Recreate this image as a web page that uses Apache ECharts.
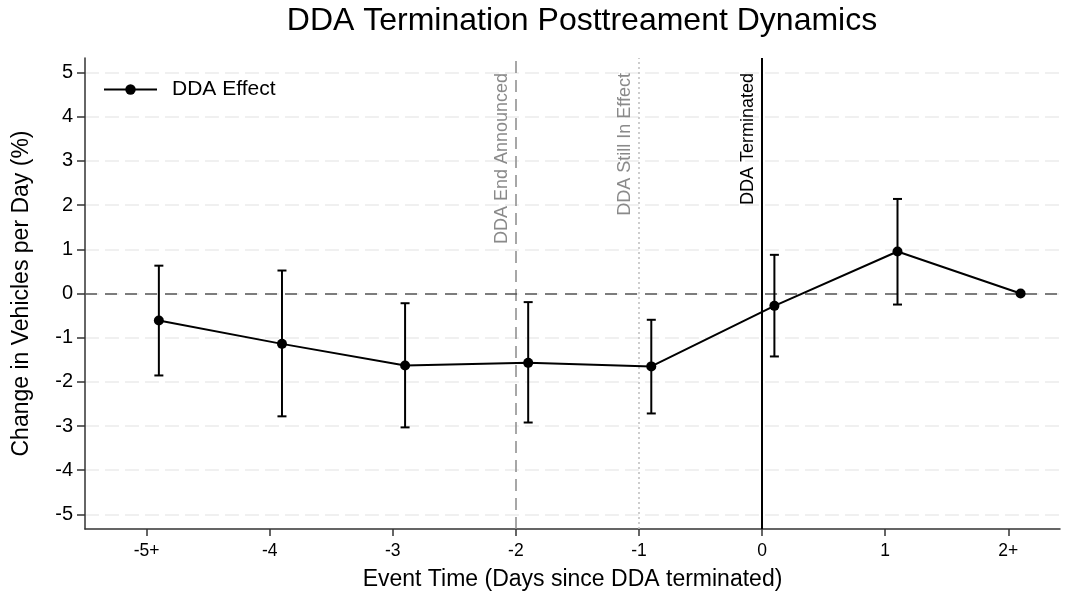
<!DOCTYPE html>
<html>
<head>
<meta charset="utf-8">
<script src="https://cdn.jsdelivr.net/npm/echarts@6/dist/echarts.min.js"></script>
<style>
html,body{margin:0;padding:0;background:#fff;}
#chart{width:1065px;height:598px;}
</style>
</head>
<body>
<div id="chart"></div>
<script>
const titleText = 'DDA Termination Posttreament Dynamics';
const xTickValues = [-5, -4, -3, -2, -1, 0, 1, 2];
const xTickLabels = ['-5+', '-4', '-3', '-2', '-1', '0', '1', '2+'];
const yTickValues = [-5, -4, -3, -2, -1, 0, 1, 2, 3, 4, 5];
const eventTimes = [-4.9, -3.9, -2.9, -1.9, -0.9, 0.1, 1.1, 2.1];
const effect = [-0.61, -1.14, -1.63, -1.57, -1.65, -0.28, 0.95, 0];
const ciLow = [-1.855, -2.78, -3.03, -2.92, -2.715, -1.425, -0.25, null];
const ciHigh = [0.63, 0.52, -0.22, -0.195, -0.595, 0.875, 2.14, null];
const eventLineX = [-2, -1, 0];
const eventLineLabels = ['DDA End Announced', 'DDA Still In Effect', 'DDA Terminated'];

const FONT = '"Liberation Sans", Arial, Helvetica, sans-serif';
const chart = echarts.init(document.getElementById('chart'), null, {renderer: 'canvas'});

const lineData = eventTimes.map((x, i) => [x, effect[i]]);
const ciData = [];
eventTimes.forEach((x, i) => { if (ciLow[i] !== null) ciData.push([x, ciLow[i], ciHigh[i]]); });

const eventLineStyles = [
  {color: '#8a8a8a', width: 1.5, type: [12, 7]},
  {color: '#bdbdbd', width: 1.5, type: [2, 3]},
  {color: '#000000', width: 2, type: 'solid'}
];
const eventLabelColors = ['#8a8a8a', '#8a8a8a', '#000000'];

const markLineData = eventLineX.map((x, i) => ({
  xAxis: x,
  lineStyle: eventLineStyles[i],
  label: {
    show: true,
    formatter: eventLineLabels[i],
    position: 'insideEndTop',
    distance: [15, 5],
    color: eventLabelColors[i],
    fontSize: 18,
    fontFamily: FONT
  }
}));
markLineData.push({
  yAxis: 0,
  lineStyle: {color: '#555', width: 1.5, type: [12, 8]},
  label: {show: false}
});

const option = {
  animation: false,
  backgroundColor: '#fff',
  title: {
    text: titleText,
    left: 577,
    top: 0,
    textAlign: 'center',
    textStyle: {fontFamily: FONT, fontSize: 32, fontWeight: 'normal', color: '#000'}
  },
  legend: {
    left: 98,
    top: 74,
    itemWidth: 53,
    itemHeight: 13,
    textStyle: {fontFamily: FONT, fontSize: 21, color: '#000', padding: [0, 0, 0, 10]},
    data: ['DDA Effect']
  },
  grid: {left: 85, right: 5, top: 58, bottom: 69, containLabel: false},
  xAxis: {
    type: 'value',
    min: -5.5,
    max: 2.42,
    name: 'Event Time (Days since DDA terminated)',
    nameLocation: 'middle',
    nameGap: 39,
    nameTextStyle: {fontFamily: FONT, fontSize: 23, color: '#000'},
    axisLine: {show: true, onZero: false, lineStyle: {color: '#333', width: 1.5}},
    axisTick: {show: true, length: 7, customValues: xTickValues, lineStyle: {color: '#333', width: 1.5}},
    axisLabel: {
      customValues: xTickValues,
      formatter: v => { const i = xTickValues.indexOf(Math.round(v)); return i >= 0 ? xTickLabels[i] : ''; },
      fontFamily: FONT, fontSize: 17.5, color: '#000', margin: 13
    },
    splitLine: {show: false}
  },
  yAxis: {
    type: 'value',
    min: -5.33,
    max: 5.33,
    name: 'Change in Vehicles per Day (%)',
    nameLocation: 'middle',
    nameGap: 52,
    nameTextStyle: {fontFamily: FONT, fontSize: 23, color: '#000'},
    axisLine: {show: true, onZero: false, lineStyle: {color: '#333', width: 1.5}},
    axisTick: {show: true, length: 8, customValues: yTickValues, lineStyle: {color: '#333', width: 1.5}},
    axisLabel: {customValues: yTickValues, fontFamily: FONT, fontSize: 20, color: '#000', margin: 12},
    splitLine: {show: true, lineStyle: {color: '#ececec', width: 1.5, type: [14, 6]}}
  },
  series: [
    {
      name: 'CI',
      type: 'custom',
      silent: true,
      z: 3,
      renderItem: function (params, api) {
        const x = api.value(0);
        const lo = api.coord([x, api.value(1)]);
        const hi = api.coord([x, api.value(2)]);
        const cap = 4.5;
        const st = {stroke: '#000', lineWidth: 2};
        return {
          type: 'group',
          children: [
            {type: 'line', shape: {x1: lo[0], y1: lo[1], x2: hi[0], y2: hi[1]}, style: st},
            {type: 'line', shape: {x1: lo[0] - cap, y1: lo[1], x2: lo[0] + cap, y2: lo[1]}, style: st},
            {type: 'line', shape: {x1: hi[0] - cap, y1: hi[1], x2: hi[0] + cap, y2: hi[1]}, style: st}
          ]
        };
      },
      encode: {x: 0, y: [1, 2]},
      data: ciData
    },
    {
      name: 'DDA Effect',
      type: 'line',
      z: 4,
      data: lineData,
      symbol: 'circle',
      symbolSize: 10,
      lineStyle: {color: '#000', width: 2},
      itemStyle: {color: '#000'},
      markLine: {
        silent: true,
        symbol: ['none', 'none'],
        animation: false,
        z: 2,
        data: markLineData
      }
    }
  ]
};
chart.setOption(option);
</script>
</body>
</html>
